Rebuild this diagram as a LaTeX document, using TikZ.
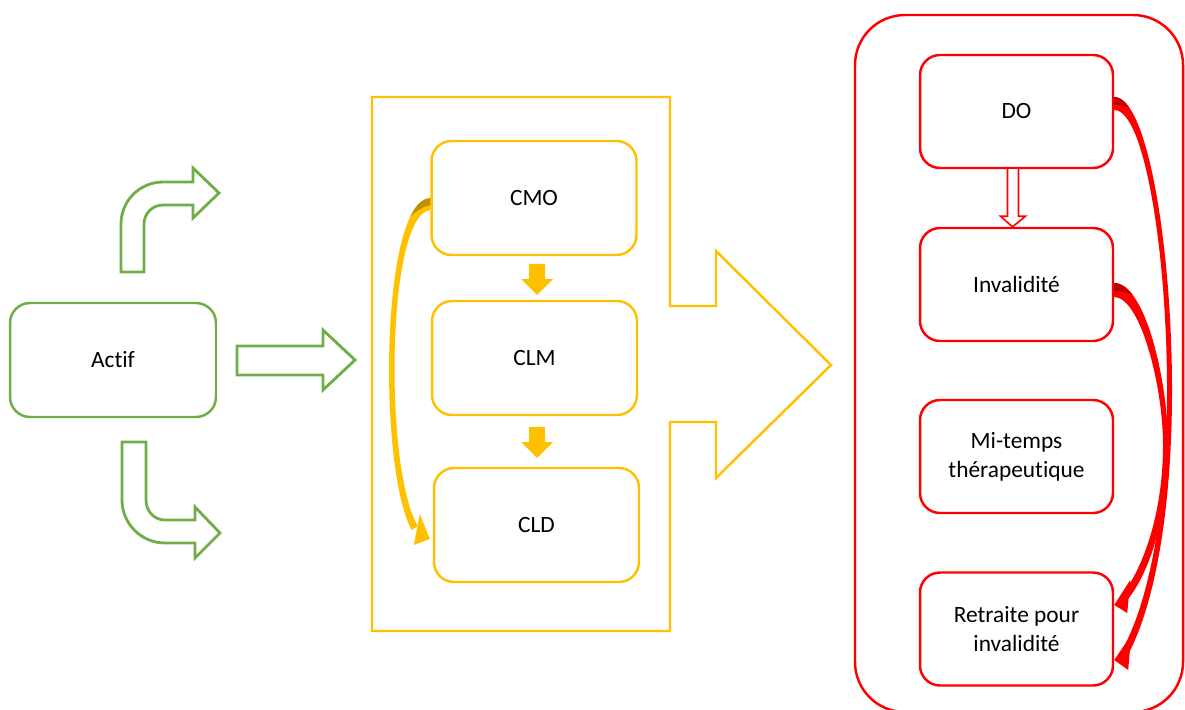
\documentclass[tikz,border=0pt]{standalone}
\usepackage{fontspec}
\setmainfont{Carlito}[Ligatures=NoCommon]
\usepackage{xcolor}
\usetikzlibrary{calc,positioning}
\definecolor{vert}{HTML}{70AD47}
\definecolor{jaune}{HTML}{FFC000}
\definecolor{jaunefonce}{HTML}{BF9000}
\definecolor{rouge}{HTML}{FF0000}
\definecolor{rougefonce}{HTML}{C00000}
\tikzset{every node/.append style={font=\fontsize{13.3}{16.5}\selectfont, align=center},
  gbox/.style={draw=vert, line width=1.4pt, rounded corners=0.4cm, minimum width=4.12cm, minimum height=2.28cm},
  ybox/.style={draw=jaune, line width=1.4pt, rounded corners=0.4cm, minimum width=4.1cm, minimum height=2.28cm},
  rbox/.style={draw=rouge, line width=1.4pt, rounded corners=0.4cm, minimum width=3.86cm, minimum height=2.26cm},
  garrow/.style={draw=vert, line width=1.6pt, line join=miter},
  yline/.style={draw=jaune, line width=1.4pt, line join=miter}}

\begin{document}
\begin{tikzpicture}[x=0.02cm, y=-0.02cm]
        \useasboundingbox (0,0) rectangle (1185,709);
        \clip (0,0) rectangle (1185,709);

        % left part
        \node [gbox] (actif) at (113,360) {Actif};
        \draw [garrow] (237,346) -- (323,346) -- (323,330) -- (355,360) -- (323,390) -- (323,375) -- (237,375) -- cycle;
        \draw [garrow] (121,272) -- (121,224) .. controls (121,200.8) and (139.8,182) .. (163,182)
              -- (193,182) -- (193,168) -- (219,193) -- (193,218) -- (193,205) -- (163,205)
              .. controls (152.5,205) and (144,213.5) .. (144,224) -- (144,272) -- cycle;
        \draw [garrow] (122,442) -- (122,500) .. controls (122,523.7) and (141.3,543) .. (165,543)
              -- (195,543) -- (195,558) -- (220,533) -- (195,507) -- (195,520) -- (165,520)
              .. controls (154,520) and (146,511) .. (146,500) -- (146,442) -- cycle;

        % yellow callout
        \draw [yline] (372,97) -- (670,97) -- (670,306) -- (716,306) -- (716,251) -- (831,365)
              -- (716,478) -- (716,422) -- (670,422) -- (670,631) -- (372,631) -- cycle;
        \node [ybox] (cmo) at (534,198) {CMO};
        \node [ybox] (clm) at (534.5,358) {CLM};
        \node [ybox] (cld) at (536.5,525) {CLD};
        \fill [jaune] (529,264) -- (545,264) -- (545,279) -- (553,279) -- (537,295) -- (521,279) -- (529,279) -- cycle;
        \fill [jaune] (529,427) -- (545,427) -- (545,442) -- (553,442) -- (537,458) -- (521,442) -- (529,442) -- cycle;

        \begin{scope}
          \clip (cmo.west) .. controls (380,200) and (378,470) .. ($(cld.west)+(-21,5)$)
                -- ($(cld.west)+(-15,1)$) .. controls (384,470) and (386,215) .. ($(cmo.west)+(0,12)$) -- cycle;
          \fill [jaune] (360,180) rectangle (440,560);
          \fill [jaunefonce] (440,185) -- (440,204) .. controls (425,204) and (410,212) .. (398,232) -- (370,232) -- (370,185) -- cycle;
        \end{scope}
        \fill [jaune] ($(cld.west)+(-3,14)$) -- ($(cld.west)+(-19,20)$) -- ($(cld.west)+(-13,-11)$) -- cycle;

        % red part
        \draw [rouge, line width=1.4pt, rounded corners=1cm] (855,15) rectangle (1183,712);
        \node [rbox] (do) at (1016.5,111.5) {DO};
        \node [rbox] (inval) at (1016.5,284.5) {Invalidité};
        \node [rbox] (mitemps) at (1016.5,456.5) {Mi-temps\\thérapeutique};
        \node [rbox] (retraite) at (1016.5,629) {Retraite pour\\invalidité};
        \draw [rouge, fill=white, line width=0.9pt] ($(do.south)+(-9,0)$) -- ++(0,47) -- ++(-7,0) -- ($(inval.north)+(-4,0)$)
              -- ($(do.south)+(9,47)$) -- ++(-7,0) -- ++(0,-47);

        \begin{scope}
          \clip ($(do.east)+(0,-14.5)$) .. controls (1148,97) and (1172,250) .. (1172,390)
                .. controls (1172,520) and (1152,610) .. ($(retraite.east)+(14,25)$)
                -- ($(retraite.east)+(9,19)$) .. controls (1146,606) and (1167,520) .. (1167,390)
                .. controls (1167,255) and (1145,110) .. ($(do.east)+(0,-1.5)$) -- cycle;
          \fill [rouge] (1100,80) rectangle (1185,670);
          \fill [rougefonce] (1100,80) -- (1175,80) -- (1150,122) .. controls (1140,110) and (1128,104) .. (1100,104) -- cycle;
        \end{scope}
        \fill [rouge] ($(retraite.east)+(0,31)$) -- ($(retraite.east)+(17,6)$) -- ($(retraite.east)+(14,41)$) -- cycle;

        \begin{scope}
          \clip ($(inval.east)+(0,-1.5)$) .. controls (1145,283) and (1168,380) .. (1168,445)
                .. controls (1168,520) and (1148,575) .. ($(retraite.east)+(13,-29)$)
                -- ($(retraite.east)+(8,-35)$) .. controls (1142,570) and (1163,515) .. (1163,445)
                .. controls (1163,385) and (1140,297) .. ($(inval.east)+(0,12.5)$) -- cycle;
          \fill [rouge] (1100,270) rectangle (1185,610);
          \fill [rougefonce] (1100,270) -- (1175,270) -- (1150,308) .. controls (1140,296) and (1128,290) .. (1100,290) -- cycle;
        \end{scope}
        \fill [rouge] ($(retraite.east)+(0,-24)$) -- ($(retraite.east)+(16,-49)$) -- ($(retraite.east)+(13,-16)$) -- cycle;
      \end{tikzpicture}
\end{document}
